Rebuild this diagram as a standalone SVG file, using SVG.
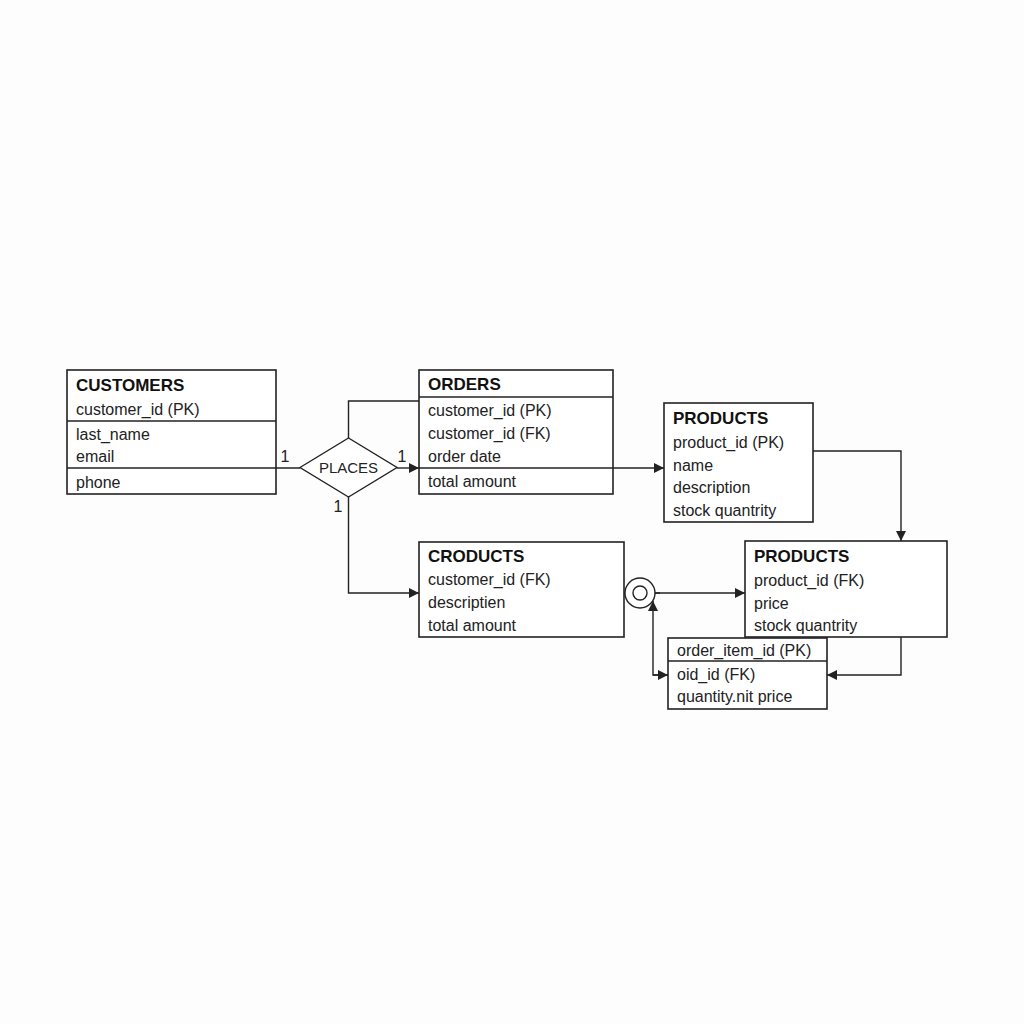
<svg xmlns="http://www.w3.org/2000/svg" width="1024" height="1024" viewBox="0 0 1024 1024">
<defs>
<style>
.box{fill:#fff;stroke:#222;stroke-width:1.6}
.ln{fill:none;stroke:#222;stroke-width:1.4}
.t{font-family:"Liberation Sans",Arial,sans-serif;font-size:16px;fill:#222}
.h{font-family:"Liberation Sans",Arial,sans-serif;font-size:17px;font-weight:bold;fill:#111}
</style>
<marker id="arr" viewBox="0 0 10 10" refX="10" refY="5" markerWidth="10" markerHeight="10" markerUnits="userSpaceOnUse" orient="auto">
<path d="M0,0 L10,5 L0,10 z" fill="#222"/>
</marker>
</defs>
<rect width="1024" height="1024" fill="#fdfdfd"/>

<g id="customers">
<rect class="box" x="67" y="370" width="209" height="124"/>
<line class="ln" x1="67" y1="421" x2="276" y2="421"/>
<text class="h" x="76" y="391">CUSTOMERS</text>
<text class="t" x="76" y="415">customer_id (PK)</text>
<text class="t" x="76" y="440">last_name</text>
<text class="t" x="76" y="462">email</text>
<text class="t" x="76" y="488">phone</text>
</g>

<g id="orders">
<rect class="box" x="419" y="370" width="194" height="124"/>
<line class="ln" x1="419" y1="397" x2="613" y2="397"/>
<text class="h" x="428" y="390">ORDERS</text>
<text class="t" x="428" y="416">customer_id (PK)</text>
<text class="t" x="428" y="439">customer_id (FK)</text>
<text class="t" x="428" y="462">order date</text>
<text class="t" x="428" y="487">total amount</text>
</g>

<g id="products1">
<rect class="box" x="664" y="403" width="149" height="119"/>
<text class="h" x="673" y="424">PRODUCTS</text>
<text class="t" x="673" y="448">product_id (PK)</text>
<text class="t" x="673" y="471">name</text>
<text class="t" x="673" y="493">description</text>
<text class="t" x="673" y="516">stock quantrity</text>
</g>

<g id="crodcuts">
<rect class="box" x="419" y="542" width="205" height="95"/>
<text class="h" x="428" y="562">CRODUCTS</text>
<text class="t" x="428" y="585">customer_id (FK)</text>
<text class="t" x="428" y="608">descriptien</text>
<text class="t" x="428" y="631">total amount</text>
</g>

<g id="products2">
<rect class="box" x="745" y="541" width="202" height="96"/>
<text class="h" x="754" y="562">PRODUCTS</text>
<text class="t" x="754" y="586">product_id (FK)</text>
<text class="t" x="754" y="609">price</text>
<text class="t" x="754" y="631">stock quantrity</text>
</g>

<g id="order_items">
<rect class="box" x="668" y="638" width="159" height="71"/>
<line class="ln" x1="668" y1="661" x2="827" y2="661"/>
<text class="t" x="677" y="656">order_item_id (PK)</text>
<text class="t" x="677" y="680">oid_id (FK)</text>
<text class="t" x="677" y="702">quantity.nit price</text>
</g>

<g id="connectors">
<line class="ln" x1="67" y1="468" x2="300" y2="468"/>
<polyline class="ln" points="348.5,438 348.5,401 419,401"/>
<line class="ln" x1="397" y1="468" x2="419" y2="468" marker-end="url(#arr)"/>
<line class="ln" x1="419" y1="468" x2="664" y2="468" marker-end="url(#arr)"/>
<polyline class="ln" points="813,451 901,451 901,541" marker-end="url(#arr)"/>
<polyline class="ln" points="348.5,497 348.5,593 419,593" marker-end="url(#arr)"/>
<line class="ln" x1="624" y1="593" x2="745" y2="593" marker-end="url(#arr)"/>
<polyline class="ln" points="668,675 653,675 653,601" marker-end="url(#arr)"/>
<line class="ln" x1="653" y1="675" x2="668" y2="675" marker-end="url(#arr)"/>
<polyline class="ln" points="901,637 901,675 827,675" marker-end="url(#arr)"/>
</g>

<g id="circle">
<circle cx="640" cy="593" r="15" fill="#fff" stroke="#222" stroke-width="1.4"/>
<circle cx="640" cy="593" r="7" fill="#fff" stroke="#222" stroke-width="1.4"/>
<line class="ln" x1="655" y1="593" x2="660" y2="593"/>
</g>

<g id="places">
<polygon points="300,467.5 348.5,438 397,467.5 348.5,497" fill="#fff" stroke="#222" stroke-width="1.4"/>
<text class="t" x="348.5" y="473" text-anchor="middle" style="font-size:15px">PLACES</text>
<text class="t" x="285" y="462" text-anchor="middle">1</text>
<text class="t" x="402" y="462" text-anchor="middle">1</text>
<text class="t" x="338" y="512" text-anchor="middle">1</text>
</g>
</svg>
